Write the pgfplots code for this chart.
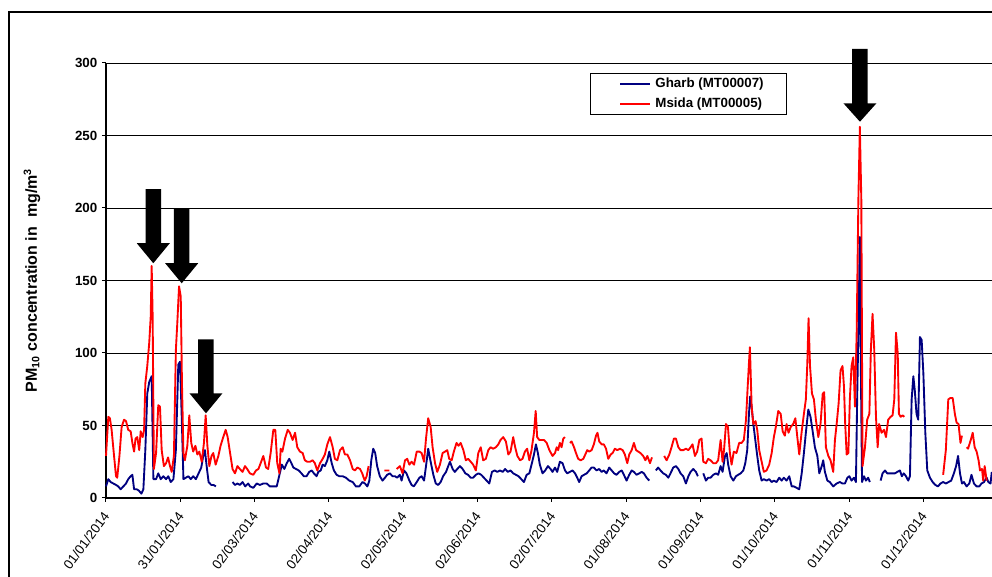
\documentclass[border=0pt]{standalone}
\usepackage{fontspec}
\setmainfont{Liberation Sans}
\usepackage{pgfplots}
\pgfplotsset{compat=1.18}
\definecolor{gblue}{RGB}{0,0,128}
\definecolor{mred}{RGB}{255,0,0}
\begin{document}
\begin{tikzpicture}
\begin{axis}[
  at={(0pt,0pt)}, anchor=south west,
  scale only axis, width=664.5pt, height=326.25pt,
  xmin=0, xmax=362.7, ymin=0, ymax=300,
  axis x line=bottom, axis y line=left,
  axis line style={-, black, line width=0.8pt},
  ytick={0,50,...,300}, ymajorgrids,
  grid style={black, line width=0.6pt},
  xtick={0,30.42,60.83,91.25,121.67,152.08,182.5,212.92,243.33,273.75,304.17,334.58},
  xticklabels={01/01/2014,31/01/2014,02/03/2014,02/04/2014,02/05/2014,02/06/2014,02/07/2014,01/08/2014,01/09/2014,01/10/2014,01/11/2014,01/12/2014},
  tick align=outside, major tick length=3pt,
  tick style={black, line width=0.75pt},
  /pgf/number format/assume math mode=true,
  x tick label style={yshift=-8pt, xshift=1pt, rotate=53, anchor=east, inner sep=1pt, font=\fontsize{10}{12}\selectfont},
  y tick label style={font=\fontsize{10}{12}\selectfont\bfseries},
  ylabel={PM\textsubscript{10} concentration in\ \ mg/m\textsuperscript{3}},
  ylabel style={at={(axis description cs:-0.0835,0.5)}, anchor=center, font=\fontsize{12}{14}\selectfont\bfseries},
  unbounded coords=jump, clip=false,
  legend style={at={(0.546,0.978)}, anchor=north west, draw=black, line width=0.75pt, fill=white,
    font=\fontsize{10}{12}\selectfont\bfseries, inner xsep=17pt, inner ysep=3.7pt,
    nodes={inner sep=0pt}, /tikz/column sep=3.75pt, /tikz/row sep=6.1pt},
  legend cell align=left,
  legend image code/.code={\path (0pt,0pt); \draw[#1] (4.75pt,0pt) -- (26.75pt,0pt);},
]
\addplot[gblue, line width=1.4pt, line join=round] coordinates {
(0,8)(0.95,13)(1.9,11)(3,10)(4.1,9)(5,8)(6,6)(7.1,8)(8.2,10)(9.1,13)(10.1,15)(10.8,16)(11.5,6)(12.6,6)(13.5,5)(14.5,3)(15.3,6)(16.1,33)(16.9,72)(17.7,80)(18.7,84)(19.4,13)(20.5,13)(21.4,17)(22.4,13)(23.5,15)(24.6,13)(25.5,15)(26.5,11)(27.6,13)(28.6,33)(29.6,92)(30.3,94)(31,56)(31.7,13)(32.7,14)(33.7,15)(34.7,13)(35.7,15)(36.8,13)(37.9,17)(39,21)(39.8,29)(40.5,33)(41.2,22)(42,11)(43.1,9)(44,9)(45,8)(47,nan)(51.8,11)(52.8,9)(53.8,10)(54.8,9)(55.9,11)(57,8)(58.2,10)
(59,8)(60.3,7)(61.7,10)(63,9)(64.4,10)(65.8,10)(67.1,8)(68.5,8)(69.9,8)(71,16)(72,23)(73,20)(74,24)(75,27)(75.9,24)(76.7,21)(77.8,20)(78.9,19)(80,17)(81,15)(82.1,15)(83.2,18)(84.2,19)(85.1,17)(86.2,15)(86.9,18)(87.9,19)(88.7,23)(89.6,22)(90.6,26)(91.4,32)(92.4,24)(93.3,19)(94.4,16)(95.5,15)(96.9,15)(98.2,14)(99.6,12)(101,11)(102.3,8)(103.7,8)(105,11)(106,10)(107,8)(107.8,12)(108.6,26)(109.4,34)(110.2,31)(111,22)(112.1,15)(113.2,12)(114.2,14)(115.1,16)(116.2,17)(117.3,15)(118.3,15)(119.2,14)(120.3,16)
(121,12)(122,19)(123,17)(124.2,12)(125.1,9)(126,8)(127.2,11)(128.3,14)(129.2,15)(130.2,12)(131,22)(131.9,34)(132.9,25)(134,16)(135,10)(136,9)(137,11)(138,15)(139.2,18)(140.1,22)(140.8,25)(141.9,20)(142.8,18)(143.8,20)(144.9,22)(146,20)(147.1,17)(148.2,16)(149.3,14)(150.3,14)(151.4,16)(152.5,17)(153.6,16)(154.7,14)(155.8,12)(156.9,10)(158,18)(159.1,19)(160.2,18)(161.3,19)(162.4,18)(163.4,20)(164.5,18)(165.6,19)(166.7,17)(167.8,16)(168.9,15)(170,13)(171.1,11)(172.2,16)(173.3,17)(174.2,23)(175.2,30)(176,37)(176.8,31)(177.6,23)(178.7,17)(179.8,19)(180.9,22)
(182,20)(182.8,18)(183.8,21)(184.7,18)(185.8,25)(186.9,24)(187.9,19)(188.8,17)(189.9,18)(191,19)(192,17)(192.9,14)(193.7,11)(194.7,15)(195.7,16)(196.8,17)(197.8,19)(198.8,21)(199.7,21)(200.8,19)(201.9,20)(202.9,18)(203.8,19)(204.9,17)(206,21)(207,19)(208,17)(209,16)(210.1,18)(211.1,19)(212,16)(213.1,12)(214.2,16)(215.2,19)(216.1,18)(217.2,16)(218.3,17)(219.3,18)(220.2,17)(221.3,14)(222.4,12)(223.7,nan)(225.1,19)(226,21)(227,19)(228.1,17)(229.2,16)(230.2,14)(231.1,17)(232.2,21)(233.3,22)(234.3,20)(235.2,17)(236.3,15)(237.4,10)(238.4,15)(239.3,18)(240.4,20)(241.5,18)(242.3,15)(243.4,nan)
(244.5,17)(245.6,12)(246.5,14)(247.5,14)(248.6,16)(249.7,17)(250.6,16)(251.6,22)(252.4,18)(253.4,29)(254.1,31)(254.7,23)(255.7,15)(256.8,12)(257.9,15)(258.8,16)(259.8,17)(260.9,19)(261.7,24)(262.5,33)(263.2,58)(263.7,70)(264.3,63)(265,51)(265.8,40)(266.6,29)(267.4,19)(268.4,12)(269.3,13)(270.4,12)(271.5,13)(272.5,11)(273.4,12)(274.5,11)(275.6,14)(276.6,12)(277.5,14)(278.6,12)(279.7,15)(280.7,8)(281.6,8)(282.7,7)(283.8,6)(284.8,17)(285.7,31)(286.5,45)(287.5,61)(288.4,56)(289.2,47)(290.2,35)(291.2,29)(292,17)(293,22)(293.6,26)(294.3,18)(295.3,12)(296.3,11)(297.7,8)(299.1,10)(300.4,11)(301.5,10)(302.5,10)(303.5,14)(304.3,15)(305.2,12)(306.2,14)(307,11)(307.5,68)(308.1,125)(308.6,180)(309,91)(309.5,11)(310.3,15)(311.1,12)(312,14)(312.7,11)(315,nan)
(317.1,12)(317.9,17)(318.9,19)(319.8,17)(320.9,17)(322,17)(323,17)(323.9,18)(325,19)(325.8,15)(326.6,17)(327.5,15)(328.4,12)(329.1,15)(329.8,68)(330.5,84)(331.1,74)(331.8,58)(332.5,54)(333.2,111)(333.9,109)(334.6,86)(335.4,45)(336.2,19)(337.3,14)(338.4,11)(339.5,9)(340.6,8)(341.6,10)(342.7,11)(343.8,10)(344.9,11)(346,12)(347.1,17)(348,22)(348.8,29)(349.6,17)(350.4,10)(351.2,11)(352.3,8)(353.4,10)(354.3,16)(355.3,10)(356.4,8)(357.5,8)(358.4,10)(359.4,11)(360.5,14)(361.2,11)(362.1,10)(362.6,18)
};
\addlegendentry{Gharb (MT00007)}
\addplot[mred, line width=1.4pt, line join=round] coordinates {
(0,29)(0.95,56)(1.6,55)(2.3,47)(3.3,29)(4.1,15)(4.6,14)(5.5,29)(6.4,49)(7.4,54)(8.2,53)(9.1,47)(10.1,46)(10.8,38)(11.5,32)(12.1,41)(12.8,42)(13.6,33)(14.2,46)(15,42)(15.6,47)(16.1,79)(16.9,91)(17.7,107)(18.3,125)(18.7,160)(19.1,125)(19.6,20)(20.5,31)(21.4,64)(22.1,63)(22.8,33)(23.7,22)(24.6,24)(25.4,28)(26.2,22)(26.9,18)(27.8,29)(28.6,102)(29.2,121)(29.9,146)(30.6,139)(31.1,79)(31.7,31)(32.3,26)(33.3,36)(34.1,57)(34.9,38)(35.7,32)(36.6,36)(37.4,30)(38.2,32)(39.2,25)(40.1,38)(40.8,57)(41.5,36)(42.3,22)(43.2,29)(43.9,31)(44.9,23)(46,29)(46.9,36)(48,42)(49,47)(49.8,42)(50.8,31)(51.8,20)(52.8,17)(53.8,22)(54.8,20)(55.9,18)(56.9,22)(57.8,20)(58.9,17)
(60.3,16)(61.4,19)(62.4,20)(63.3,24)(64.4,29)(65.5,21)(66.4,20)(67.4,31)(68.5,47)(69.3,47)(70.1,24)(71,17)(71.5,34)(72.2,32)(73.3,41)(74.4,47)(75.3,45)(76.4,40)(77.4,45)(78.3,35)(79.4,32)(80.5,31)(81.4,26)(82.4,25)(83.5,25)(84.6,26)(85.5,24)(86.5,19)(87.6,24)(88.7,27)(89.6,30)(90.6,37)(91.7,42)(92.8,35)(93.7,27)(94.7,26)(95.8,33)(96.9,35)(97.8,30)(98.8,30)(99.9,26)(101,20)(101.9,19)(102.9,21)(104,20)(104.9,17)(105.9,12)(106.7,15)(107.5,22)(110,nan)(114,19)(116,19)(117.5,nan)(119,20)(120.3,22)
(121.4,17)(122.4,26)(123.3,27)(124.2,23)(125.1,25)(126.1,23)(127.2,32)(128.3,32)(129.2,31)(130.2,25)(131,41)(131.9,55)(132.9,49)(133.7,35)(134.7,24)(135.6,18)(136.7,23)(137.8,31)(138.8,32)(139.7,33)(140.5,27)(141.5,26)(142.4,32)(143.5,38)(144.3,36)(145.2,38)(146.3,33)(147.3,26)(148.3,27)(149.3,25)(150.3,23)(151.4,19)(152.4,31)(153.4,35)(154.4,26)(155.5,27)(156.5,33)(157.4,35)(158.5,34)(159.6,35)(160.6,37)(161.5,40)(162.6,42)(163.7,39)(164.7,30)(165.6,32)(166.7,42)(167.5,35)(168.4,29)(169.5,26)(170.5,27)(171.5,32)(172.4,34)(173.3,26)(174.2,33)(175.2,45)(175.9,60)(176.5,42)(177.4,40)(178.3,40)(179.3,40)(180.4,38)(181.5,33)
(182.8,29)(183.8,31)(184.5,35)(185.1,33)(185.8,38)(186.5,35)(187.2,41)(187.9,42)(188.8,nan)(189.9,38)(190.6,39)(191.6,35)(192.4,31)(193.3,27)(194.3,26)(195.4,27)(196.2,30)(197,33)(197.8,32)(198.8,33)(199.7,37)(200.6,43)(201.2,45)(201.9,39)(202.9,37)(203.8,37)(204.7,34)(205.6,27)(206.6,30)(207.4,31)(208.3,34)(209.3,33)(210.4,34)(211.5,33)(212.4,30)(213.4,24)(214.2,30)(215.2,33)(216.1,38)(217,33)(217.9,32)(218.8,31)(219.9,29)(220.8,26)(221.6,29)(222.7,24)(223.5,28)(226,nan)(228.5,29)(229.5,26)(230.6,30)(231.5,35)(232.5,41)(233.3,41)(234.3,35)(235.2,33)(236.3,33)(237.4,34)(238.4,33)(239.3,35)(240.1,37)(241.1,29)(242,32)(242.9,40)(243.8,41)
(244.5,25)(245.6,24)(246.5,27)(247.5,26)(248.6,24)(249.7,24)(250.6,26)(251.6,40)(252.4,25)(253,33)(253.8,51)(254.6,49)(255.4,31)(256.1,23)(257,32)(258.1,31)(259.2,38)(260.2,38)(261.1,40)(262,54)(262.6,74)(263.2,93)(263.6,104)(264.3,63)(265,51)(265.9,53)(266.6,47)(267.4,33)(268.4,25)(269.3,18)(270.4,19)(271.5,23)(272.5,31)(273.4,42)(274.2,49)(275.2,60)(276.2,58)(277,46)(277.9,43)(278.6,51)(279.4,45)(280.3,49)(281.3,51)(282.2,55)(283,42)(283.8,30)(284.8,46)(285.7,58)(286.5,68)(287.1,93)(287.6,124)(288.2,91)(289,72)(289.8,68)(290.6,54)(291.6,42)(292.5,51)(293.4,72)(294,73)(294.7,35)(295.7,29)(296.6,26)(297.7,18)(298.4,40)(299.1,51)(299.9,65)(300.7,88)(301.5,91)(302.1,77)(302.6,51)(303.2,30)(303.9,31)(304.5,68)(305.2,91)(305.9,97)(306.6,63)(307.3,114)(308,206)(308.6,256)(309.2,206)(309.7,22)(310.7,35)(311.6,54)(312.5,58)(313.1,102)(313.8,127)(314.5,102)(315.2,56)(315.9,35)(316.5,51)(317.5,45)(318.5,47)(319.3,42)(320.2,54)(321.2,56)(322,57)(322.7,68)(323.4,114)(324.1,100)(324.6,58)(325.3,56)(326.1,57)(326.8,56)(334,nan)
(342.7,16)(343.8,33)(344.8,68)(345.7,69)(346.6,69)(347.5,58)(348.2,52)(349,51)(349.8,38)(350.4,43)(351.2,nan)(352.3,35)(352.9,34)(354,40)(354.8,45)(355.6,35)(356.4,32)(357.2,26)(357.8,19)(358.6,20)(359.1,12)(359.7,22)(360.5,12)
};
\addlegendentry{Msida (MT00005)}
% annotation arrows
\fill[black] (axis cs:16.19,213.1) -- (axis cs:22.53,213.1) -- (axis cs:22.53,175.7) -- (axis cs:26.11,175.7) -- (axis cs:19.36,161.9) -- (axis cs:12.61,175.7) -- (axis cs:16.19,175.7) -- cycle;
\fill[black] (axis cs:27.82,199.3) -- (axis cs:34.16,199.3) -- (axis cs:34.16,161.9) -- (axis cs:37.74,161.9) -- (axis cs:30.99,148.1) -- (axis cs:24.24,161.9) -- (axis cs:27.82,161.9) -- cycle;
\fill[black] (axis cs:37.76,109.4) -- (axis cs:44.10,109.4) -- (axis cs:44.10,72.2) -- (axis cs:47.68,72.2) -- (axis cs:40.93,58.4) -- (axis cs:34.18,72.2) -- (axis cs:37.76,72.2) -- cycle;
\fill[black] (axis cs:305.47,309.7) -- (axis cs:311.81,309.7) -- (axis cs:311.81,272.2) -- (axis cs:315.39,272.2) -- (axis cs:308.64,259.5) -- (axis cs:301.89,272.2) -- (axis cs:305.47,272.2) -- cycle;
\end{axis}
\draw[black, line width=1.2pt] (-72.75pt,-80pt) -- (-72.75pt,364.5pt) -- (700pt,364.5pt);
\pgfresetboundingbox
\path[use as bounding box] (-79.5pt,-59.25pt) rectangle (664.5pt,373.5pt);
\end{tikzpicture}
\end{document}
